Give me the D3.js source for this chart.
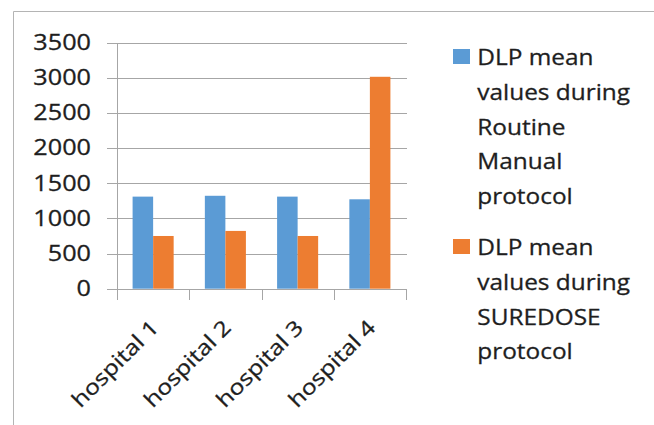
<!DOCTYPE html>
<html>
<head>
<meta charset="utf-8">
<script src="https://cdn.jsdelivr.net/npm/d3@7"></script>
<style>
  html, body { margin: 0; padding: 0; background: #fff; }
  svg { display: block; }
  text { font-family: "Open Sans", sans-serif; fill: #1e1e1e; stroke: #1e1e1e; stroke-width: 0.3; }
</style>
</head>
<body>
<svg id="chart" width="654" height="425"></svg>
<script>
const categories = ["hospital 1", "hospital 2", "hospital 3", "hospital 4"];
const seriesNames = ["Routine Manual", "SUREDOSE"];
const routineValues = [1310, 1322, 1310, 1272];
const suredoseValues = [750, 822, 750, 3015];
const yTicks = [0, 500, 1000, 1500, 2000, 2500, 3000, 3500];
const legendLines = [
  ["DLP mean", "values during", "Routine", "Manual", "protocol"],
  ["DLP mean", "values during", "SUREDOSE", "protocol"]
];
const colors = ["#5B9BD5", "#ED7D31"];

const svg = d3.select("#chart");

// outer frame (top and left only visible)
svg.append("line").attr("x1", 13.5).attr("x2", 654).attr("y1", 11.5).attr("y2", 11.5)
  .attr("stroke", "#b4b4b4").attr("stroke-width", 1);
svg.append("line").attr("x1", 13.5).attr("x2", 13.5).attr("y1", 11.5).attr("y2", 425)
  .attr("stroke", "#b4b4b4").attr("stroke-width", 1);

const x0 = d3.scaleBand().domain(categories).range([117, 406]).paddingInner(0).paddingOuter(0);
const x1 = d3.scaleBand().domain(seriesNames).range([0, x0.bandwidth()]).paddingInner(0).paddingOuter(0.76);
const y = d3.scaleLinear().domain([0, 3500]).range([288.7, 42.7]);

const gridColor = "#a6a6a6";

// gridlines + y ticks
svg.append("g").selectAll("line").data(yTicks).join("line")
  .attr("x1", 107).attr("x2", 407)
  .attr("y1", d => Math.round(y(d)) + 0.5).attr("y2", d => Math.round(y(d)) + 0.5)
  .attr("stroke", gridColor).attr("stroke-width", 1);

// y axis line
svg.append("line").attr("x1", 117.5).attr("x2", 117.5)
  .attr("y1", Math.round(y(3500)) + 0.5).attr("y2", 300)
  .attr("stroke", gridColor);

// category ticks
const tickXs = categories.map(c => x0(c) + x0.bandwidth());
svg.append("g").selectAll("line").data(tickXs).join("line")
  .attr("x1", d => Math.round(d) + 0.5).attr("x2", d => Math.round(d) + 0.5)
  .attr("y1", Math.round(y(0)) + 0.5).attr("y2", 300)
  .attr("stroke", gridColor);

// y labels
svg.append("g").selectAll("text").data(yTicks).join("text")
  .attr("transform", d => `translate(91, ${y(d) + 7.3}) scale(1.2,1)`)
  .attr("text-anchor", "end")
  .attr("font-size", 21)
  .text(d => d);

// bars
const data = categories.map((c, i) => ({ cat: c, vals: [routineValues[i], suredoseValues[i]] }));
const groups = svg.append("g").selectAll("g").data(data).join("g")
  .attr("transform", d => `translate(${x0(d.cat)},0)`);
groups.selectAll("rect").data(d => d.vals.map((v, j) => ({ v, j }))).join("rect")
  .attr("x", d => x1(seriesNames[d.j]))
  .attr("width", x1.bandwidth())
  .attr("y", d => y(d.v))
  .attr("height", d => y(0) - y(d.v))
  .attr("fill", d => colors[d.j]);

// x labels
svg.append("g").selectAll("text").data(categories).join("text")
  .attr("transform", d => `translate(${x0(d) + x0.bandwidth() / 2 + 7}, 329) rotate(-45) scale(1.18,1)`)
  .attr("text-anchor", "end")
  .attr("font-size", 21)
  .text(d => d);

// legend
const legendTop = [65, 255];
const lineH = 34.8;
legendLines.forEach((lines, i) => {
  const g = svg.append("g");
  g.append("rect").attr("x", 453).attr("y", legendTop[i] - 16).attr("width", 17).attr("height", 15)
    .attr("fill", colors[i]);
  g.selectAll("text").data(lines).join("text")
    .attr("transform", (d, k) => `translate(477.3, ${legendTop[i] + k * lineH}) scale(1.09,1)`)
    .attr("font-size", 22.4)
    .text(d => d);
});
</script>
</body>
</html>
